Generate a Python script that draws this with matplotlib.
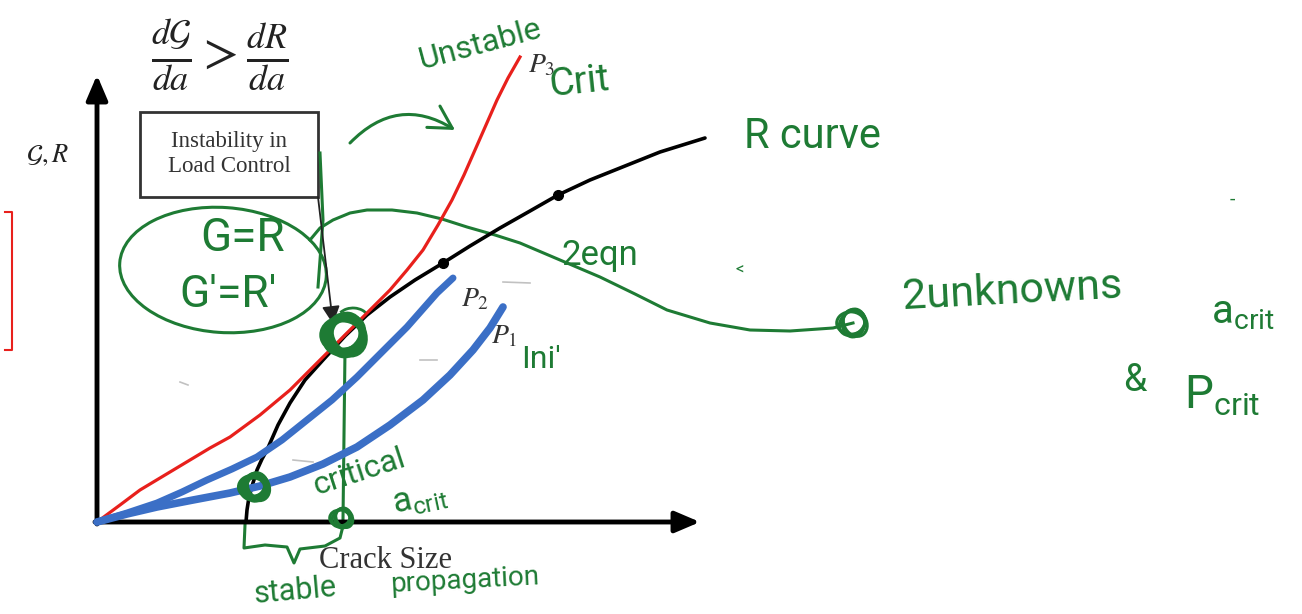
import matplotlib.pyplot as plt
from matplotlib.patches import Rectangle, Ellipse, Arc

# G curves at fixed load and the R curve, sketch units (crack size a, G or R)
p3_a = [0, 2.3, 4.3, 6.8, 9.3, 11.3, 13.3, 16.3, 19.3, 22.0, 24.6, 27.0, 29.3, 31.0,
        32.6, 34.1, 35.5, 36.7, 37.8, 38.9, 40.0, 41.1, 42.3]
p3_G = [0, 1.7, 3.2, 4.7, 6.2, 7.4, 8.5, 10.7, 13.2, 15.9, 18.5, 20.9, 23.2, 25.2,
        27.2, 29.7, 32.2, 34.7, 37.2, 39.7, 42.2, 44.4, 46.5]

p2_a = [0, 3.0, 6.0, 8.5, 11.0, 13.5, 16.0, 18.5, 21.0, 23.5, 26.0, 28.5, 31.0, 32.5, 34.0, 35.6]
p2_G = [0, 0.9, 1.9, 3.0, 4.2, 5.3, 6.5, 8.2, 10.2, 12.2, 14.5, 17.0, 19.5, 21.2, 22.9, 24.4]

p1_a = [0, 3.0, 6.0, 9.6, 13.3, 16.3, 19.3, 22.6, 26.0, 29.3, 32.6, 35.3, 37.6, 39.3, 40.6]
p1_G = [0, 0.8, 1.5, 2.2, 2.9, 3.6, 4.5, 5.8, 7.5, 9.7, 12.2, 14.7, 17.2, 19.4, 21.5]

r_a = [14.9, 15.0, 15.2, 15.6, 16.0, 16.5, 17.0, 18.1, 19.3, 20.8, 22.6, 24.8, 27.0, 29.3,
       31.8, 34.6, 37.3, 40.3, 43.3, 46.1, 49.3, 52.3, 56.3, 60.8]
r_R = [0, 1.2, 2.5, 3.9, 5.2, 6.3, 7.2, 9.7, 11.9, 14.2, 16.2, 18.6, 20.7, 22.5,
       24.2, 25.9, 27.6, 29.4, 31.1, 32.7, 34.2, 35.4, 37.0, 38.4]
r_dots = [15, 19]

load_labels = ['$P_3$', '$P_2$', '$P_1$']

# pen strokes
link_a = [21.3, 22.3, 23.6, 25.3, 27.0, 29.5, 32.0, 34.5, 37.0, 39.8, 42.3, 46.3, 50.3,
          53.8, 57.0, 61.3, 65.3, 69.3, 73.6, 75.6]
link_y = [28.2, 29.4, 30.2, 30.9, 31.2, 31.2, 30.9, 30.3, 29.5, 28.7, 27.9, 26.2, 24.5,
          22.8, 21.2, 19.9, 19.2, 19.1, 19.4, 19.9]
brace_a = [14.8, 14.7, 16.8, 19.0, 19.7, 20.3, 22.8, 24.3, 24.6]
brace_y = [-0.3, -2.6, -2.3, -2.5, -4.1, -2.7, -2.4, -1.6, -0.4]

green = '#1e7b34'
red = '#e8201c'
blue = '#3b6fc6'
hand = dict(color=green, family=['Roboto', 'DejaVu Sans'])

fig = plt.figure(figsize=(13.02, 6.14), dpi=100)
ax = fig.add_axes([0, 0, 1, 1])
ax.set_xlim(-9.7, 120.5)
ax.set_ylim(-9.2, 52.2)
ax.axis('off')

# axes with arrow heads
arrow_kw = dict(arrowstyle='-|>,head_length=0.75,head_width=0.32', lw=3.5,
                color='black', mutation_scale=20, shrinkA=0, shrinkB=0)
ax.annotate('', xy=(0, 44.7), xytext=(0, -0.2), arrowprops=arrow_kw)
ax.annotate('', xy=(60.3, 0), xytext=(-0.2, 0), arrowprops=arrow_kw)

# curves
ax.plot(r_a, r_R, color='black', lw=2.6, solid_capstyle='round', zorder=3)
ax.plot([r_a[i] for i in r_dots], [r_R[i] for i in r_dots], 'o', color='black', ms=7, zorder=3)
ax.plot(p3_a, p3_G, color=red, lw=2.3, zorder=4)
ax.plot(p2_a, p2_G, color=blue, lw=5, solid_capstyle='round', solid_joinstyle='round', zorder=4)
ax.plot(p1_a, p1_G, color=blue, lw=5.5, solid_capstyle='round', solid_joinstyle='round', zorder=4)

serif = dict(family=['Liberation Serif', 'DejaVu Serif'], color='#333333')
ax.text(p3_a[-1] + 0.8, p3_G[-1] - 1.5, load_labels[0], fontsize=20, math_fontfamily='stix', **serif)
ax.text(p2_a[-1] + 0.8, p2_G[-1] - 2.8, load_labels[1], fontsize=20, math_fontfamily='stix', **serif)
ax.text(p1_a[-1] - 1.2, p1_G[-1] - 3.6, load_labels[2], fontsize=20, math_fontfamily='stix', **serif)

ax.text(12.3, 46.7, r'$\frac{d\mathcal{G}}{da} > \frac{dR}{da}$', fontsize=37,
        math_fontfamily='stix', ha='center', va='center', color='#222222')
ax.text(-4.9, 36.7, r'$\mathcal{G}, R$', fontsize=19, math_fontfamily='stix',
        ha='center', va='center', color='#222222')
ax.text(28.8, -3.8, 'Crack Size', fontsize=22, ha='center', va='center', **serif)

ax.add_patch(Rectangle((4.3, 32.5), 17.8, 8.5, fill=False, lw=2, edgecolor='#333333'))
ax.text(13.2, 36.8, 'Instability in\nLoad Control', fontsize=16.5, ha='center', va='center',
        linespacing=1.25, **serif)
ax.annotate('', xy=(23.6, 19.8), xytext=(22.1, 32.5),
            arrowprops=dict(arrowstyle='-|>,head_length=0.6,head_width=0.3', lw=1.3,
                            color='#222222', mutation_scale=18, shrinkA=0, shrinkB=0))

# red bracket on the left
ax.plot([-9.2, -8.5, -8.5, -9.2], [31.0, 31.0, 17.2, 17.2], color=red, lw=1.5)

# faint dashes
for xs, ys in [([32.3, 34.0], [16.2, 16.2]), ([40.6, 43.3], [24.0, 23.9]),
               ([19.6, 21.6], [6.2, 6.0]), ([8.3, 9.1], [14.0, 13.7])]:
    ax.plot(xs, ys, color='#999999', lw=1.2, alpha=0.6)

# handwritten notes
pen = dict(color=green, lw=2.2)
ax.annotate('', xy=(35.8, 39.2), xytext=(25.3, 37.9),
            arrowprops=dict(arrowstyle='->,head_length=0.8,head_width=0.45',
                            connectionstyle='arc3,rad=-0.4', mutation_scale=20,
                            shrinkA=0, shrinkB=0, **pen))
ax.add_patch(Ellipse((12.6, 25.2), 20.7, 12.5, angle=-4, fill=False, edgecolor=green, lw=2.2))
ax.plot([22.3, 22.6, 22.1], [36.9, 30.2, 23.5], **pen)
ax.plot(link_a, link_y, **pen)
ax.plot([24.8, 24.6], [17.2, 0.2], **pen)
ax.plot(brace_a, brace_y, **pen)
ax.add_patch(Arc((25.6, 20.2), 3.2, 2.4, theta1=20, theta2=150, edgecolor=green, lw=2))

# scribbled dots
for cx, cy, r, w in [(24.8, 18.7, 2.0, 5), (75.6, 19.9, 1.4, 2.2), (15.8, 3.5, 1.3, 4),
                     (24.5, 0.4, 1.0, 2.2)]:
    for k, ang in enumerate([0, 40, 80, 120]):
        ax.add_patch(Ellipse((cx + 0.15 * (k - 1.5), cy), 2 * r, 1.6 * r, angle=ang,
                             fill=False, edgecolor=green, lw=w, zorder=5))

ax.text(38.3, 47.7, 'Unstable', fontsize=23, rotation=15, ha='center', va='center', **hand)
ax.text(48.3, 44.0, 'Crit', fontsize=28, rotation=6, ha='center', va='center', **hand)
ax.text(71.5, 38.6, 'R curve', fontsize=30, ha='center', va='center', **hand)
ax.text(14.6, 28.4, 'G=R', fontsize=33, ha='center', va='center', **hand)
ax.text(13.1, 22.7, "G'=R'", fontsize=32, ha='center', va='center', **hand)
ax.text(50.3, 26.7, '2eqn', fontsize=25, ha='center', va='center', **hand)
ax.text(44.4, 16.3, "Ini'", fontsize=23, ha='center', va='center', **hand)
ax.text(26.2, 5.0, 'critical', fontsize=23, rotation=18, ha='center', va='center', **hand)
ax.text(32.3, 2.3, r'a$_{\mathregular{crit}}$', fontsize=25, rotation=12, ha='center', va='center', **hand)
ax.text(19.8, -6.9, 'stable', fontsize=22, rotation=5, ha='center', va='center', **hand)
ax.text(36.8, -5.9, 'propagation', fontsize=20, rotation=3, ha='center', va='center', **hand)
ax.text(91.5, 23.0, '2unknowns', fontsize=31, rotation=3, ha='center', va='center', **hand)
ax.text(114.6, 21.0, r'a$_{\mathregular{crit}}$', fontsize=29, ha='center', va='center', **hand)
ax.text(103.8, 14.2, '&', fontsize=27, ha='center', va='center', **hand)
ax.text(112.5, 12.6, r'P$_{\mathregular{crit}}$', fontsize=33, ha='center', va='center', **hand)
ax.text(64.3, 25.2, '<', fontsize=12, ha='center', va='center', **hand)
ax.text(113.5, 32.2, '-', fontsize=14, ha='center', va='center', **hand)

fig.savefig('out.png', dpi=100)
